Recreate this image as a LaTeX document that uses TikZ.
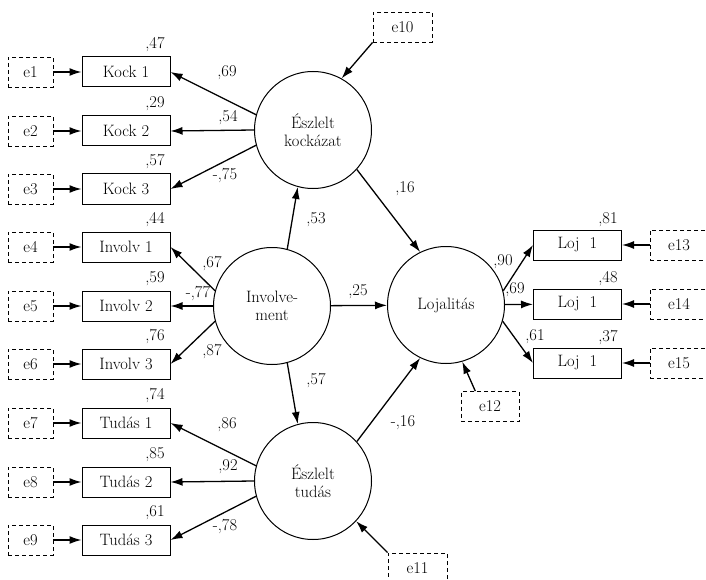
\documentclass[tikz,border=0pt]{standalone}
\usetikzlibrary{arrows.meta,calc}

\begin{document}
\begin{tikzpicture}[x=1pt,y=-1pt,
    font=\fontsize{16.5}{18}\selectfont,
    latent/.style={draw, circle, line width=1pt, minimum size=117pt, inner sep=0pt, align=center},
    observed/.style={draw, rectangle, line width=1pt, minimum width=88pt, minimum height=30pt, inner sep=0pt},
    errbox/.style={draw, rectangle, dash pattern=on 4pt off 3pt, line width=0.8pt, minimum height=30pt, inner sep=0pt},
    arr/.style={-{Latex[length=12pt,width=8pt]}, line width=1.3pt}]
    \useasboundingbox (0,0) rectangle (706,580);

    % Latent variables
    \node[latent] (kock) at (313,130) {Észlelt\\kockázat};
    \node[latent] (inv) at (272,306) {Involve-\\ment};
    \node[latent] (tud) at (313,481) {Észlelt\\tudás};
    \node[latent] (loj) at (446,305) {Lojalitás};

    % Left indicators with errors
    \foreach \i/\y/\r/\txt in {1/72/47/Kock 1, 2/131/29/Kock 2, 3/189/57/Kock 3,
                               4/247/44/Involv 1, 5/306/59/Involv 2, 6/364/76/Involv 3,
                               7/423/74/Tudás 1, 8/482/85/Tudás 2, 9/540/61/Tudás 3} {
        \node[errbox, minimum width=45pt] (e\i) at (30.5,\y) {e\i};
        \node[observed] (x\i) at (126,\y) {\txt};
        \node (r\i) at (155,\y-27) {,\r};
        \draw[arr] (e\i) -- (x\i);
    }

    % Right indicators with errors
    \foreach \i/\y/\r in {13/245/81, 14/304/48, 15/363/37} {
        \node[errbox, minimum width=58pt] (e\i) at (679,\y) {e\i};
        \node[observed] (y\i) at (577.5,\y) {Loj\ \ 1};
        \node (r\i) at (608,\y-25) {,\r};
        \draw[arr] (e\i) -- (y\i);
    }

    % Disturbances
    \node[errbox, minimum width=59pt] (e10) at (402.5,27) {e10};
    \node[errbox, minimum width=59pt] (e11) at (417.5,568) {e11};
    \node[errbox, minimum width=58pt] (e12) at (490,406.5) {e12};
    \draw[arr] (e10.south west) -- (kock.61);
    \draw[arr] (e11.north west) -- (tud.-43);
    \draw[arr] ($(e12.north west)!0.25!(e12.north east)$) -- (loj.-74);

    % Loadings
    \draw[arr] (kock.165) -- (x1.east);
    \draw[arr] (kock.west) -- (x2.east);
    \draw[arr] (kock.195) -- (x3.east);
    \draw[arr] (inv.165) -- (x4.east);
    \draw[arr] (inv.west) -- (x5.east);
    \draw[arr] (inv.195) -- (x6.east);
    \draw[arr] (tud.165) -- (x7.east);
    \draw[arr] (tud.west) -- (x8.east);
    \draw[arr] (tud.195) -- (x9.east);
    \draw[arr] (loj.14) -- (y13.west);
    \draw[arr] (loj) -- (y14);
    \draw[arr] (loj.-16) -- (y15.west);
    \node (l1) at (227,73) {,69};
    \node (l2) at (228,118) {,54};
    \node (l3) at (225,176) {-,75};
    \node (l4) at (212,264) {,67};
    \node (l5) at (198,294) {-,77};
    \node (l6) at (212,352) {,87};
    \node (l7) at (227,425) {,86};
    \node (l8) at (228,467) {,92};
    \node (l9) at (225,527) {-,78};
    \node (l13) at (503,262) {,90};
    \node (l14) at (515,290) {,69};
    \node (l15) at (535,337) {,61};

    % Structural paths
    \draw[arr] (inv.75) -- (kock.255);
    \draw[arr] (inv.-75) -- (tud.105);
    \draw[arr] (inv) -- (loj);
    \draw[arr] (kock.-42) -- (loj.116);
    \draw[arr] (tud.42) -- (loj.244);
    \node (p1) at (316,220) {,53};
    \node (p2) at (316,381) {,57};
    \node (p3) at (405,189) {,16};
    \node (p4) at (358,292) {,25};
    \node (p5) at (403,423) {-,16};
\end{tikzpicture}
\end{document}
